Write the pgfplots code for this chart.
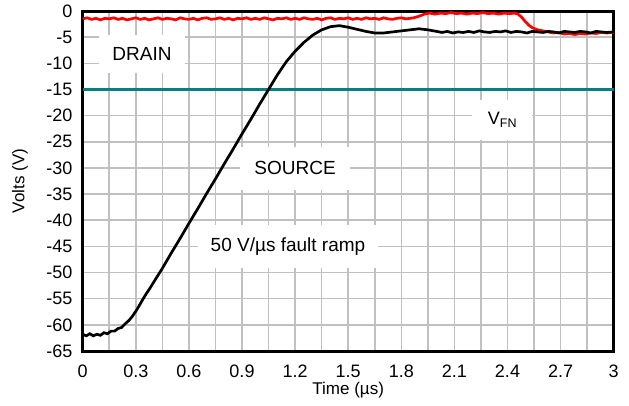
\documentclass[border=0pt]{standalone}
\usepackage{pgfplots}
\pgfplotsset{compat=1.18}
\usepackage{fontspec}
\setmainfont{Liberation Sans}

\definecolor{gridgray}{RGB}{192,192,192}
\definecolor{vfn}{RGB}{0,128,128}

\begin{document}
\begin{tikzpicture}
  \path[use as bounding box] (-82.7pt,-54pt) rectangle (546.3pt,351pt);
  \begin{axis}[
      scale only axis,
      width=531pt, height=340pt,
      at={(0,0)}, anchor=south west,
      xmin=0, xmax=3, ymin=-65, ymax=0,
      xtick={0,0.3,...,3.01},
      xticklabels={0,0.3,0.6,0.9,1.2,1.5,1.8,2.1,2.4,2.7,3},
      ytick={-65,-60,...,0},
      minor x tick num=1,
      grid=both,
      grid style={gridgray, line width=1.6pt},
      minor grid style={gridgray, line width=1.6pt},
      major tick length=0pt, minor tick length=0pt,
      axis line style={black, line width=3pt},
      /pgf/number format/assume math mode=true,
      tick label style={font=\fontsize{18}{21}\selectfont, inner sep=0pt},
      yticklabel style={anchor=east, xshift=-10pt},
      xticklabel style={anchor=north, yshift=-14pt},
      xlabel={Time (µs)},
      ylabel={Volts (V)},
      label style={font=\fontsize{17}{20}\selectfont, inner sep=0pt},
      xlabel style={at={(axis description cs:0.5,-0.115)}, anchor=center},
      ylabel style={at={(axis description cs:-0.118,0.5)}, anchor=center},
      clip=false,
    ]
    % annotation boxes (cover the grid)
    \node[fill=white, inner sep=0pt, minimum width=86pt, minimum height=38pt,
          font=\fontsize{19}{22}\selectfont] at (axis cs:0.335,-8.2) {DRAIN};
    \node[fill=white, inner sep=0pt, minimum width=110pt, minimum height=43pt,
          font=\fontsize{19}{22}\selectfont] at (axis cs:1.2,-30.1) {SOURCE};
    \node[fill=white, inner sep=0pt, minimum width=180pt, minimum height=43pt,
          font=\fontsize{19}{22}\selectfont] at (axis cs:1.16,-45.0) {50 V/µs fault ramp};
    \node[fill=white, inner sep=0pt, minimum width=60pt, minimum height=40pt,
          font=\fontsize{18}{21}\selectfont] at (axis cs:2.37,-20.8)
          {V{\fontsize{12.5}{13}\selectfont\raisebox{-3.5pt}{FN}}};

    % V_FN threshold
    \addplot[vfn, line width=2.5pt] coordinates {(0,-15) (3,-15)};

    % drain
    \addplot[red, line width=2.7pt] coordinates {
      (0,-1.5) (0.025,-1.3) (0.05,-1.6) (0.075,-1.4) (0.10,-1.7) (0.125,-1.4)
      (0.15,-1.5) (0.175,-1.3) (0.20,-1.6) (0.225,-1.4) (0.25,-1.7) (0.275,-1.5)
      (0.30,-1.3) (0.325,-1.6) (0.35,-1.4) (0.375,-1.7) (0.40,-1.5) (0.425,-1.3)
      (0.45,-1.6) (0.475,-1.4) (0.50,-1.5) (0.525,-1.7) (0.55,-1.3) (0.575,-1.5)
      (0.60,-1.6) (0.625,-1.4) (0.65,-1.7) (0.675,-1.4) (0.70,-1.3) (0.725,-1.6)
      (0.75,-1.5) (0.775,-1.3) (0.80,-1.6) (0.825,-1.4) (0.85,-1.7) (0.875,-1.4)
      (0.90,-1.5) (0.925,-1.3) (0.95,-1.6) (0.975,-1.4) (1.00,-1.6) (1.025,-1.3)
      (1.05,-1.5) (1.075,-1.7) (1.10,-1.4) (1.125,-1.5) (1.15,-1.3) (1.175,-1.6)
      (1.20,-1.4) (1.225,-1.6) (1.25,-1.3) (1.275,-1.5) (1.30,-1.6) (1.325,-1.4)
      (1.35,-1.7) (1.375,-1.4) (1.40,-1.3) (1.425,-1.6) (1.45,-1.4) (1.475,-1.5)
      (1.50,-1.3) (1.525,-1.6) (1.55,-1.4) (1.575,-1.6) (1.60,-1.3) (1.625,-1.5)
      (1.65,-1.4) (1.675,-1.6) (1.70,-1.3) (1.725,-1.5) (1.75,-1.6) (1.775,-1.4)
      (1.80,-1.3) (1.825,-1.5) (1.85,-1.4) (1.87,-1.3) (1.90,-1.0) (1.93,-0.6)
      (1.96,-0.4) (1.99,-0.6) (2.02,-0.4) (2.05,-0.5) (2.08,-0.3) (2.11,-0.5)
      (2.14,-0.4) (2.17,-0.6) (2.20,-0.4) (2.23,-0.5) (2.26,-0.3) (2.29,-0.5)
      (2.32,-0.4) (2.35,-0.6) (2.38,-0.4) (2.41,-0.5) (2.44,-0.4) (2.46,-0.6)
      (2.48,-1.2) (2.50,-2.0) (2.52,-2.7) (2.54,-3.2) (2.57,-3.6) (2.60,-3.8)
      (2.63,-4.0) (2.66,-4.2) (2.69,-4.1) (2.72,-4.4) (2.75,-4.3) (2.78,-4.5)
      (2.81,-4.3) (2.84,-4.4) (2.87,-4.2) (2.90,-4.3) (2.93,-4.1) (2.96,-4.2)
      (3.00,-4.1)
    };

    % source
    \addplot[black, line width=2.7pt] coordinates {
      (0,-61.8) (0.02,-62.1) (0.04,-61.7) (0.06,-62.1) (0.08,-61.8) (0.10,-62.0)
      (0.12,-61.5) (0.14,-61.7) (0.16,-61.2) (0.18,-61.2) (0.20,-60.7) (0.22,-60.5)
      (0.24,-59.8) (0.26,-59.2) (0.28,-58.4) (0.30,-57.4) (0.32,-56.3) (0.34,-55.1)
      (0.36,-54.0) (0.38,-53.0) (0.40,-51.9) (0.45,-49.2) (0.50,-46.3) (0.55,-43.5)
      (0.60,-40.6) (0.65,-37.8) (0.70,-34.9) (0.75,-32.1) (0.80,-29.2) (0.85,-26.4)
      (0.90,-23.5) (0.95,-20.7) (1.00,-17.8) (1.05,-15.0) (1.10,-12.2) (1.15,-9.7)
      (1.20,-7.7) (1.25,-6.0) (1.30,-4.6) (1.35,-3.6) (1.40,-3.0) (1.45,-2.8)
      (1.50,-3.1) (1.55,-3.5) (1.60,-3.9) (1.65,-4.2) (1.70,-4.2) (1.75,-4.0)
      (1.80,-3.8) (1.85,-3.6) (1.90,-3.4) (1.95,-3.6) (2.00,-3.9) (2.03,-4.1)
      (2.06,-3.9) (2.09,-4.2) (2.12,-4.0) (2.15,-4.1) (2.18,-3.9) (2.21,-4.1)
      (2.24,-3.8) (2.27,-4.0) (2.30,-4.1) (2.33,-3.9) (2.36,-4.0) (2.39,-3.8)
      (2.42,-4.1) (2.45,-3.9) (2.48,-4.0) (2.51,-4.2) (2.54,-3.9) (2.57,-4.0)
      (2.60,-4.1) (2.63,-3.9) (2.66,-4.0) (2.69,-4.2) (2.72,-3.9) (2.75,-4.0)
      (2.78,-4.1) (2.81,-3.9) (2.84,-4.0) (2.87,-4.2) (2.90,-3.9) (2.93,-4.0)
      (2.96,-4.1) (3.00,-4.0)
    };
  \end{axis}
\end{tikzpicture}
\end{document}
